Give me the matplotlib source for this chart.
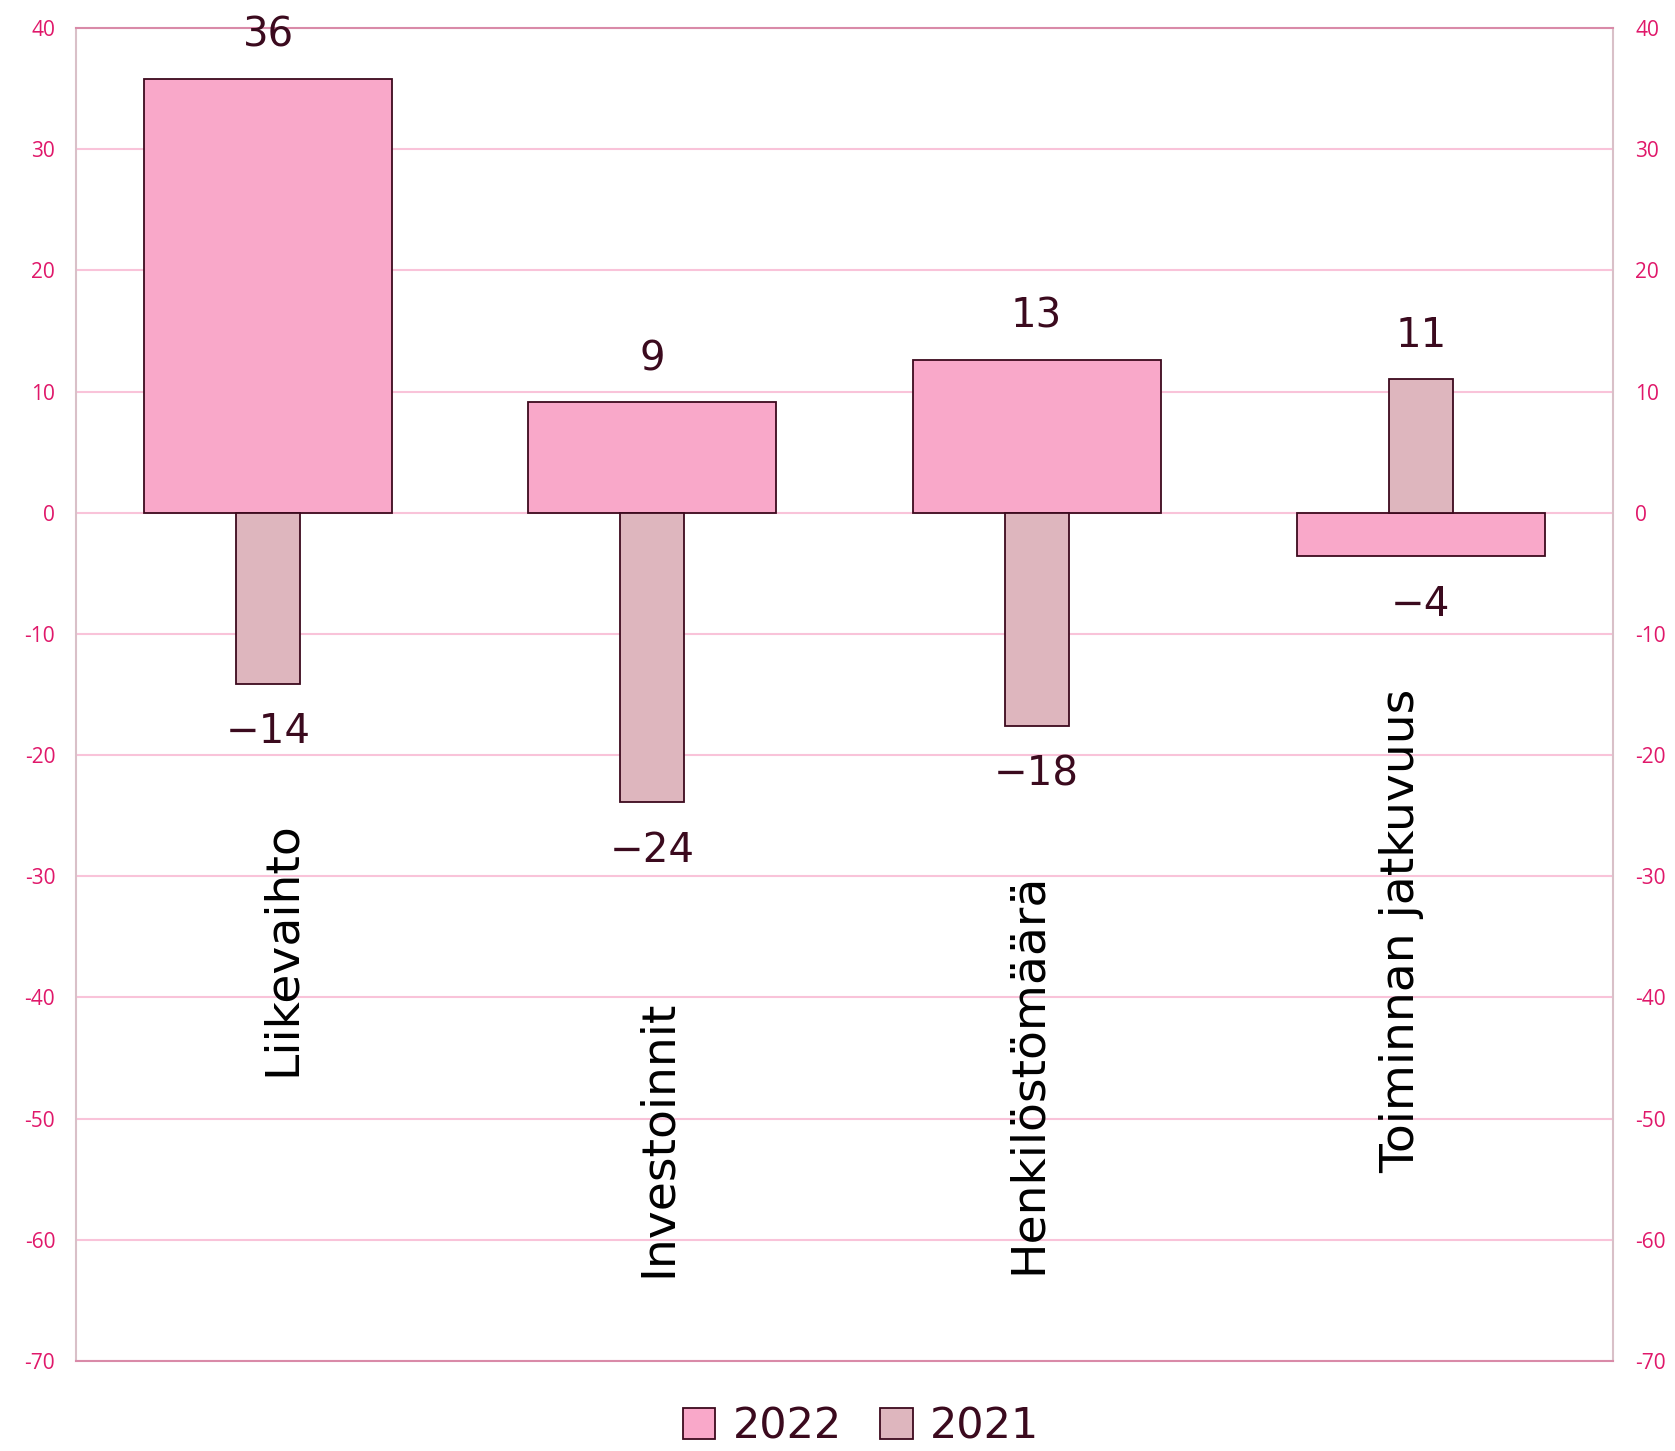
import matplotlib
matplotlib.use("Agg")
import matplotlib.pyplot as plt
import numpy as np
from matplotlib.patches import Patch

categories = ["Liikevaihto", "Investoinnit", "Henkilöstömäärä", "Toiminnan jatkuvuus"]
values_2022 = [35.8, 9.1, 12.6, -3.6]
values_2021 = [-14.1, -23.9, -17.6, 11.0]
series_names = ["2022", "2021"]
yticks = [40, 30, 20, 10, 0, -10, -20, -30, -40, -50, -60, -70]

# layout (not data): label centre along y and baseline offset along x
cat_label_y = [-36.0, -51.6, -46.3, -34.5]
cat_label_dx = [0.07, 0.047, 0.01, -0.018]

c2022 = "#F9A8C9"
c2021 = "#DEB6BE"
edge = "#3D0A1E"
txt = "#3B0A1E"
tickc = "#E0186A"
gridc = "#F9C3D9"

plt.rcParams['font.family'] = ['DejaVu Sans']
plt.rcParams['axes.unicode_minus'] = False

fig = plt.figure(figsize=(16.75, 14.51), dpi=100)
ax = fig.add_axes([76/1675, 1-1361/1451, (1613-76)/1675, (1361-28)/1451])

x = np.arange(len(categories))
b1 = ax.bar(x, values_2022, width=0.645, color=c2022, edgecolor=edge, linewidth=1.3, zorder=3)
b2 = ax.bar(x, values_2021, width=0.167, color=c2021, edgecolor=edge, linewidth=1.3, zorder=4)

ax.set_xlim(-0.5, 3.5)
ax.set_ylim(-70, 40)
ax.set_yticks(yticks)
ax.set_xticks([])
ax.yaxis.grid(True, color=gridc, linewidth=1.5, zorder=0)
ax.set_axisbelow(True)
ax.tick_params(axis='y', length=0, pad=15, labelsize=15, labelcolor=tickc)
for s in ["left", "right"]:
    ax.spines[s].set_color("#D9C0C8")
    ax.spines[s].set_linewidth(1.5)
for s in ["top", "bottom"]:
    ax.spines[s].set_color("#D98AA8")
    ax.spines[s].set_linewidth(1.5)

ax2 = ax.twinx()
ax2.set_ylim(ax.get_ylim())
ax2.set_yticks(yticks)
ax2.tick_params(axis='y', length=0, pad=16, labelsize=15, labelcolor=tickc)
for s in ax2.spines.values():
    s.set_visible(False)
for a in (ax, ax2):
    for lab in a.get_yticklabels():
        lab.set_fontfamily("Open Sans")

for bars in (b1, b2):
    for rect in bars:
        h = rect.get_height()
        xc = rect.get_x() + rect.get_width() / 2
        off = 31 if h >= 0 else -35
        ax.annotate(f"{round(h):d}".replace("-", "\u2212"), (xc, h), xytext=(0, off),
                    textcoords="offset points", ha="center", va="center",
                    fontsize=29, color=txt, zorder=6)

for xi, name, ly, dx in zip(x, categories, cat_label_y, cat_label_dx):
    ax.text(xi + dx, ly, name, rotation=90, rotation_mode="anchor",
            ha="center", va="baseline", fontsize=34, color="black", zorder=6)

handles = [Patch(facecolor=c2022, edgecolor=edge, linewidth=1.3),
           Patch(facecolor=c2021, edgecolor=edge, linewidth=1.3)]
fig.legend(handles, series_names, loc="center", bbox_to_anchor=(0.514, 0.017),
           ncol=2, frameon=False, fontsize=31, labelcolor=txt,
           handlelength=0.75, handleheight=0.75, handletextpad=0.4, columnspacing=0.9,
           borderpad=0.1)

fig.savefig("out.png", dpi=100)
